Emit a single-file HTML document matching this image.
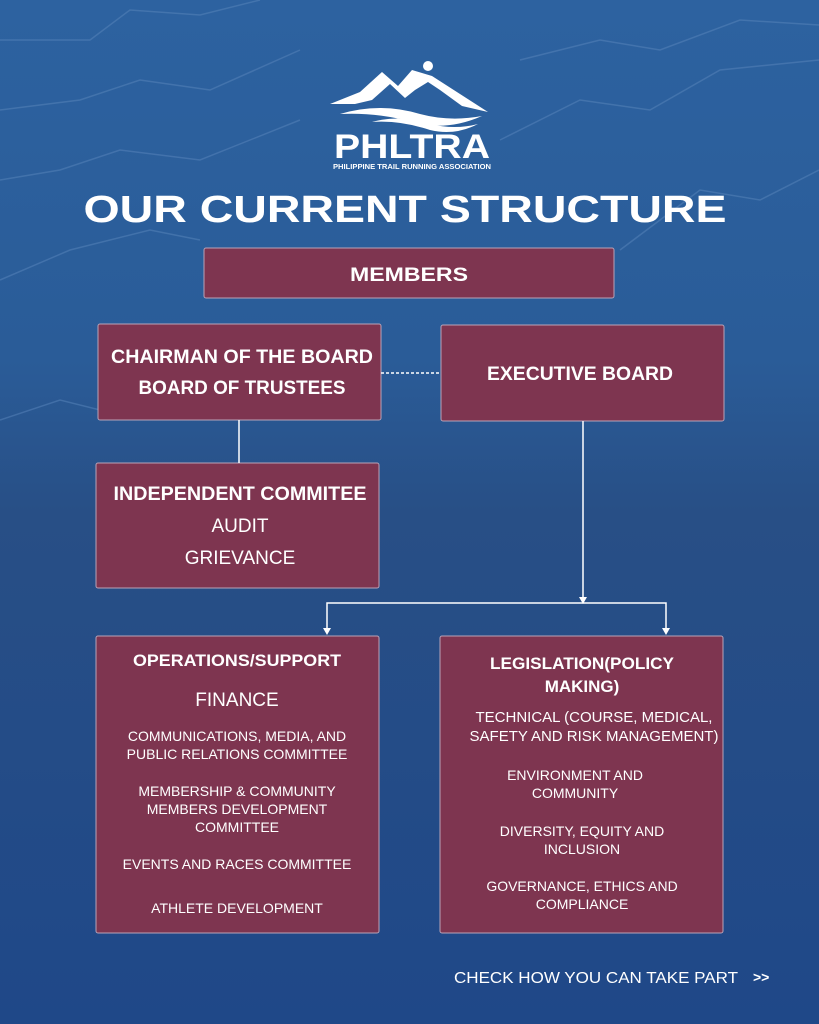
<!DOCTYPE html>
<html><head><meta charset="utf-8"><style>
html,body{margin:0;padding:0;}
body{width:819px;height:1024px;overflow:hidden;}
svg{display:block}
text{font-family:"Liberation Sans",sans-serif;fill:#fff}
.h{font-weight:bold;font-size:19px}
.b{font-size:14px}
</style></head><body>
<svg width="819" height="1024" viewBox="0 0 819 1024" xmlns="http://www.w3.org/2000/svg">
<defs>
<linearGradient id="bg" x1="0" y1="0" x2="0" y2="1">
<stop offset="0" stop-color="#2d62a0"/>
<stop offset="0.35" stop-color="#2a5c98"/>
<stop offset="0.5" stop-color="#284f86"/>
<stop offset="1" stop-color="#1f4888"/>
</linearGradient>
</defs>
<rect width="819" height="1024" fill="url(#bg)"/>
<g stroke="#5a86bb" stroke-width="1.5" fill="none" opacity="0.5">
<path d="M0,40 L90,40 L130,10 L200,15 L260,0"/>
<path d="M0,110 L80,100 L140,80 L210,90 L300,50"/>
<path d="M0,180 L60,170 L120,150 L200,160 L300,120"/>
<path d="M0,280 L70,250 L150,230 L200,240"/>
<path d="M520,60 L600,40 L660,50 L740,20 L819,25"/>
<path d="M500,140 L580,100 L650,110 L720,70 L819,60"/>
<path d="M620,250 L700,190 L760,200 L819,170"/>
<path d="M0,420 L60,400 L100,410"/>
</g>
<!-- logo -->
<g fill="#fff">
<path d="M330,104 L360,92 L382,72 L398,86 L412,70 L432,76 L488,112 L462,106 L440,90 L428,82 L415,90 L405,98 L390,84 L372,100 L355,104 Z"/>
<path d="M340,114 Q380,102 420,114 Q450,122 482,116 Q450,130 420,124 Q380,112 340,114Z"/>
<path d="M372,122 Q400,114 430,124 Q455,130 478,124 Q455,136 430,130 Q400,120 372,122Z"/>
<circle cx="428" cy="66" r="5"/>
<text x="412" y="158" text-anchor="middle" font-weight="bold" font-size="34" textLength="156" lengthAdjust="spacingAndGlyphs">PHLTRA</text>
<text x="412" y="169" text-anchor="middle" font-weight="bold" font-size="7" textLength="158" lengthAdjust="spacingAndGlyphs">PHILIPPINE TRAIL RUNNING ASSOCIATION</text>
</g>
<text x="405" y="222" text-anchor="middle" font-size="38" textLength="643" lengthAdjust="spacingAndGlyphs" style="font-weight:bold">OUR CURRENT STRUCTURE</text>
<g fill="#7e3550" stroke="#b9a3b7" stroke-width="1">
<rect x="204" y="248" width="410" height="50" rx="2"/>
<rect x="98" y="324" width="283" height="96" rx="2"/>
<rect x="441" y="325" width="283" height="96" rx="2"/>
<rect x="96" y="463" width="283" height="125" rx="2"/>
<rect x="96" y="636" width="283" height="297" rx="2"/>
<rect x="440" y="636" width="283" height="297" rx="2"/>
</g>
<g stroke="#fff" stroke-width="1.5" fill="none">
<line x1="381" y1="373" x2="441" y2="373" stroke-dasharray="3,2"/>
<line x1="239" y1="420" x2="239" y2="463"/>
<line x1="583" y1="421" x2="583" y2="598"/>
<polyline points="327,629 327,603 666,603 666,629"/>
</g>
<path d="M579,597 L587,597 L583,604 z M323,628 L331,628 L327,635 z M662,628 L670,628 L666,635 z" fill="#fff"/>
<text class="h" x="409" y="281" text-anchor="middle" textLength="118" lengthAdjust="spacingAndGlyphs">MEMBERS</text>
<text class="h" x="242" y="363" text-anchor="middle" textLength="262" lengthAdjust="spacingAndGlyphs">CHAIRMAN OF THE BOARD</text>
<text class="h" x="242" y="394" text-anchor="middle" textLength="207" lengthAdjust="spacingAndGlyphs">BOARD OF TRUSTEES</text>
<text class="h" x="580" y="380" text-anchor="middle" textLength="186" lengthAdjust="spacingAndGlyphs">EXECUTIVE BOARD</text>
<text class="h" x="240" y="500" text-anchor="middle" textLength="253" lengthAdjust="spacingAndGlyphs">INDEPENDENT COMMITEE</text>
<text x="240" y="532" text-anchor="middle" font-size="19">AUDIT</text>
<text x="240" y="564" text-anchor="middle" font-size="19">GRIEVANCE</text>
<text class="h" x="237" y="666" text-anchor="middle" textLength="208" lengthAdjust="spacingAndGlyphs" style="font-size:17px">OPERATIONS/SUPPORT</text>
<text x="237" y="706" text-anchor="middle" font-size="19">FINANCE</text>
<g text-anchor="middle">
<text class="b" x="237" y="741">COMMUNICATIONS, MEDIA, AND</text>
<text class="b" x="237" y="759">PUBLIC RELATIONS COMMITTEE</text>
<text class="b" x="237" y="796">MEMBERSHIP &amp; COMMUNITY</text>
<text class="b" x="237" y="814">MEMBERS DEVELOPMENT</text>
<text class="b" x="237" y="832">COMMITTEE</text>
<text class="b" x="237" y="869">EVENTS AND RACES COMMITTEE</text>
<text class="b" x="237" y="913">ATHLETE DEVELOPMENT</text>
<text class="h" x="582" y="669" style="font-size:17px" textLength="184" lengthAdjust="spacingAndGlyphs">LEGISLATION(POLICY</text>
<text class="h" x="582" y="692" style="font-size:17px">MAKING)</text>
<text x="594" y="722" font-size="15">TECHNICAL (COURSE, MEDICAL,</text>
<text x="594" y="741" font-size="15">SAFETY AND RISK MANAGEMENT)</text>
<text class="b" x="575" y="780">ENVIRONMENT AND</text>
<text class="b" x="575" y="798">COMMUNITY</text>
<text class="b" x="582" y="836">DIVERSITY, EQUITY AND</text>
<text class="b" x="582" y="854">INCLUSION</text>
<text class="b" x="582" y="891">GOVERNANCE, ETHICS AND</text>
<text class="b" x="582" y="909">COMPLIANCE</text>
</g>
<text x="454" y="983" font-size="16" textLength="284" lengthAdjust="spacingAndGlyphs">CHECK HOW YOU CAN TAKE PART</text>
<text x="753" y="982" font-size="14" font-weight="bold">&gt;&gt;</text>
</svg>
</body></html>
